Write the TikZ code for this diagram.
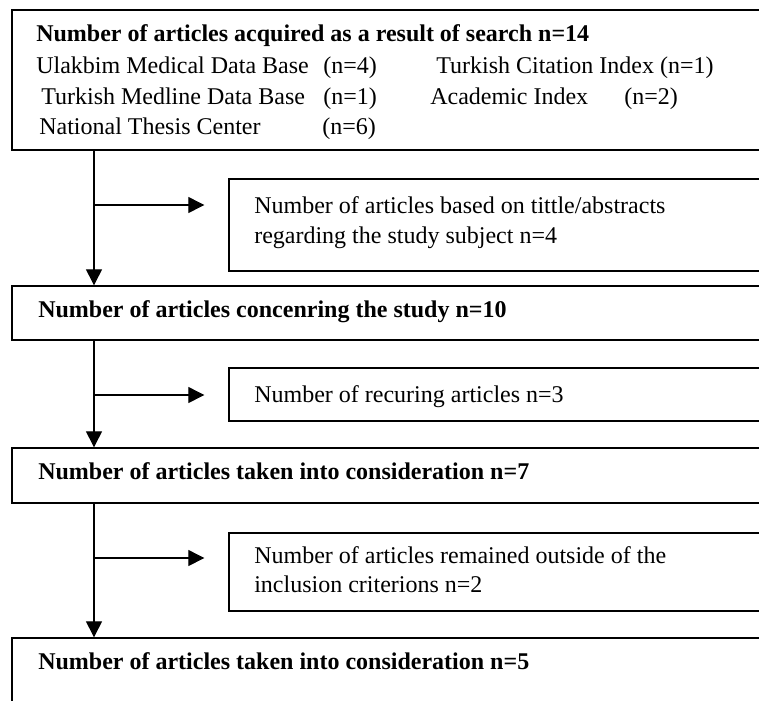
\documentclass[tikz,border=0pt]{standalone}
\usepackage{fontspec}
\setmainfont{Liberation Serif}
\usetikzlibrary{arrows.meta,fit}
\begin{document}
\begin{tikzpicture}[x=0.75pt,y=-0.75pt,
  box/.style={draw,line width=1pt,inner sep=0pt},
  txt/.style={anchor=base west,inner sep=0pt},
  flow/.style={line width=0.8pt,-{Triangle[length=12pt,width=12pt]}}]
\fontsize{18}{22}\selectfont
\useasboundingbox (0,0) rectangle (759,700);
\clip (0,0) rectangle (759,700);
% main boxes
\node[box,fit={(12,10)(800,150)}] (search) {};
\node[box,fit={(12,286)(800,340)}] (study) {};
\node[box,fit={(12,448)(800,503)}] (consid) {};
\node[box,fit={(12,638)(800,720)}] (final) {};
% side boxes
\node[box,fit={(229,179)(800,271)}] (tittle) {};
\node[box,fit={(229,368)(800,421)}] (recur) {};
\node[box,fit={(229,533)(800,611)}] (outside) {};
% texts
\node[txt] (searchhead) at (36,41) {\textbf{Number of articles acquired as a result of search n=14}};
\node[txt] (ulak) at (36,73) {Ulakbim Medical Data Base};
\node[txt] (ulakn) at (323,73) {(n=4)};
\node[txt] (cite) at (436,73) {Turkish Citation Index (n=1)};
\node[txt] (medl) at (41,104) {Turkish Medline Data Base};
\node[txt] (medln) at (323,104) {(n=1)};
\node[txt] (acad) at (430,104) {Academic Index};
\node[txt] (acadn) at (624,104) {(n=2)};
\node[txt] (thesis) at (39,134) {National Thesis Center};
\node[txt] (thesisn) at (322,134) {(n=6)};
\node[txt] (studytxt) at (38,317) {\textbf{Number of articles concenring the study n=10}};
\node[txt] (considtxt) at (38,479) {\textbf{Number of articles taken into consideration n=7}};
\node[txt] (finaltxt) at (38,669) {\textbf{Number of articles taken into consideration n=5}};
\node[txt] (tittletxt) at (254,213) {Number of articles based on tittle/abstracts};
\node[txt] (tittletxtb) at (254,243) {regarding the study subject n=4};
\node[txt] (recurtxt) at (254,402) {Number of recuring articles n=3};
\node[txt] (outsidetxt) at (254,563) {Number of articles remained outside of the};
\node[txt] (outsidetxtb) at (254,592) {inclusion criterions n=2};
% arrows
\foreach \a/\b/\c/\y in {search/study/tittle/205,study/consid/recur/395,consid/final/outside/558}{
	\coordinate (spine) at (94,\y);
	\draw[flow] (\a.south -| spine) -- (\b.north -| spine);
	\draw[flow,shorten >=18pt] (spine) -- (spine -| \c.west);}
\end{tikzpicture}
\end{document}
